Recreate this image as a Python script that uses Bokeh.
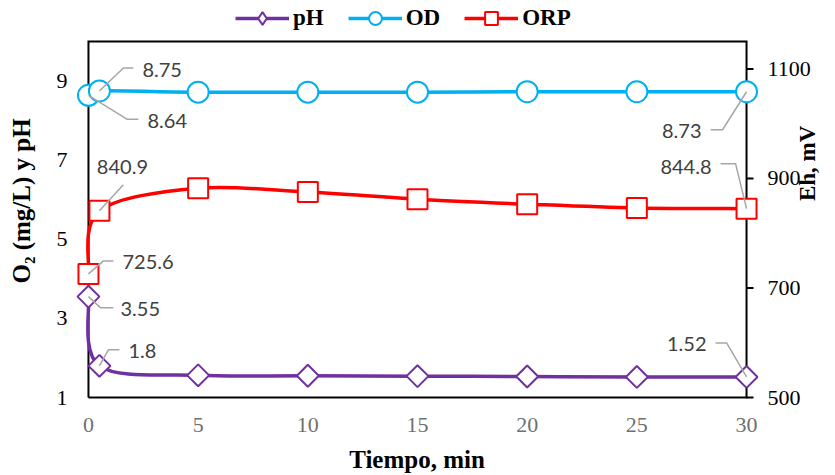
import math
from bokeh.plotting import figure
from bokeh.models import Range1d, LinearAxis, FixedTicker, Legend, LegendItem, ColumnDataSource
from bokeh.embed import file_html
from bokeh.resources import INLINE
from bokeh.core.properties import value

# ---------------- data ----------------
tiempo = [0, 0.5, 5, 10, 15, 20, 25, 30]
ph = [3.55, 1.80, 1.56, 1.55, 1.54, 1.53, 1.52, 1.52]
od = [8.64, 8.75, 8.72, 8.72, 8.72, 8.73, 8.73, 8.73]
orp = [725.6, 840.9, 882.0, 875.0, 862.0, 853.0, 846.0, 844.8]

x_ticks = [0, 5, 10, 15, 20, 25, 30]
left_ticks = [1, 3, 5, 7, 9]
right_ticks = [500, 700, 900, 1100]

X0, X1 = 0, 30
Y0, Y1 = 1, 10
R0, R1 = 500, 1150

# ---------------- layout ----------------
W, H = 835, 475
BOX_L, BOX_W, BOX_T, BOX_H = 88, 660, 41, 356
PAD_L, PAD_R, PAD_TOP, PAD_BOT = 13, 12, 41, 4
kx = BOX_W / (X1 - X0)
ky = BOX_H / (Y1 - Y0)
kr = BOX_H / (R1 - R0)
FRAME_L = BOX_L - PAD_L
FRAME_B = BOX_T + BOX_H + PAD_BOT

PURPLE, CYAN, RED = "#7030A0", "#00B0F0", "#FF0000"
LEADER, LABEL = "#A6A6A6", "#404040"
SERIF = "Liberation Serif"

p = figure(width=W, height=H, output_backend="svg", toolbar_location=None,
           x_range=Range1d(X0 - PAD_L / kx, X1 + PAD_R / kx),
           y_range=Range1d(Y0 - PAD_BOT / ky, Y1 + PAD_TOP / ky),
           min_border_left=FRAME_L,
           min_border_right=W - (BOX_L + BOX_W + PAD_R),
           min_border_top=0,
           min_border_bottom=H - FRAME_B)
p.extra_y_ranges = {"right": Range1d(R0 - PAD_BOT / kr, R1 + PAD_TOP / kr)}
p.outline_line_color = None
p.xgrid.visible = False
p.ygrid.visible = False
p.background_fill_color = "white"
p.title.visible = False


def style_axis(ax):
    ax.axis_line_color = None
    ax.major_tick_line_color = None
    ax.minor_tick_line_color = None
    ax.major_tick_out = 0
    ax.major_tick_in = 0
    ax.minor_tick_out = 0
    ax.minor_tick_in = 0
    ax.major_label_text_font = SERIF
    ax.major_label_text_font_size = "22px"
    ax.axis_label_text_font = SERIF
    ax.axis_label_text_font_style = "bold"
    ax.axis_label_text_font_size = "25px"
    ax.axis_label_text_color = "black"


xa = p.xaxis[0]
style_axis(xa)
xa.ticker = FixedTicker(ticks=x_ticks)
xa.axis_label = "Tiempo, min"
xa.major_label_text_color = "#707070"
xa.major_label_standoff = 16
xa.axis_label_standoff = 11

ya = p.yaxis[0]
style_axis(ya)
ya.ticker = FixedTicker(ticks=left_ticks)
ya.axis_label = "O\u2082 (mg/L) y pH"
ya.major_label_text_color = "black"
ya.major_label_standoff = 8
ya.axis_label_standoff = 19

ra = LinearAxis(y_range_name="right", ticker=FixedTicker(ticks=right_ticks), axis_label="Eh, mV")
style_axis(ra)
ra.axis_label_text_font_size = "23px"
ra.major_label_text_color = "black"
ra.major_label_standoff = 9
ra.axis_label_standoff = -6
try:
    ra.axis_label_orientation = math.pi / 2
except Exception:
    pass
p.add_layout(ra, "right")

# plot box
p.line([X0, X1, X1, X0, X0], [Y0, Y0, Y1, Y1, Y0], line_color="black", line_width=2, line_join="miter")
# right axis tick marks (outward)
p.segment(x0=[X1] * len(right_ticks), x1=[X1 + 7 / kx] * len(right_ticks),
          y0=right_ticks, y1=right_ticks, y_range_name="right", line_color="black", line_width=2)


def bezier_source(xs, ys):
    n = len(xs)
    d = dict(x0=[], y0=[], x1=[], y1=[], cx0=[], cy0=[], cx1=[], cy1=[])
    for i in range(n - 1):
        a = max(i - 1, 0)
        b = min(i + 2, n - 1)
        d["x0"].append(xs[i]); d["y0"].append(ys[i])
        d["x1"].append(xs[i + 1]); d["y1"].append(ys[i + 1])
        d["cx0"].append(xs[i] + (xs[i + 1] - xs[a]) / 6)
        d["cy0"].append(ys[i] + (ys[i + 1] - ys[a]) / 6)
        d["cx1"].append(xs[i + 1] - (xs[b] - xs[i]) / 6)
        d["cy1"].append(ys[i + 1] - (ys[b] - ys[i]) / 6)
    return ColumnDataSource(d)


def draw_curve(ys, color, rng):
    kw = {} if rng == "default" else {"y_range_name": rng}
    return p.bezier(x0="x0", y0="y0", x1="x1", y1="y1", cx0="cx0", cy0="cy0", cx1="cx1", cy1="cy1",
                    source=bezier_source(tiempo, ys), line_color=color, line_width=3.5, **kw)


ph_line = draw_curve(ph, PURPLE, "default")
ph_pts = p.scatter(tiempo, ph, marker="square", angle=math.pi / 4, size=15.5,
                   fill_color="white", line_color=PURPLE, line_width=2)
od_line = draw_curve(od, CYAN, "default")
od_pts = p.scatter(tiempo, od, marker="circle", size=21,
                   fill_color="white", line_color=CYAN, line_width=2)
orp_line = draw_curve(orp, RED, "right")
orp_pts = p.scatter(tiempo, orp, marker="square", size=20, y_range_name="right",
                    fill_color="white", line_color=RED, line_width=2)
ph_leg = p.scatter([float("nan")], [float("nan")], marker="diamond",
                   fill_color="white", line_color=PURPLE, line_width=2)

# data labels with leader lines (offsets in screen px)
series = {"ph": (ph, "default", ky), "od": (od, "default", ky), "orp": (orp, "right", kr)}
labels = [
    ("od", 1, 43, -21, "left", [(0, 0), (24, -23), (34, -23)]),
    ("od", 0, 59, 26, "left", [(0, 0), (39, 24), (50, 24)]),
    ("orp", 1, 23, -44, "center", [(0, 0), (24, -26)]),
    ("orp", 0, 34, -12, "left", [(0, 0), (15, -13), (25, -13)]),
    ("ph", 0, 32, 12, "left", [(0, 0), (12, 11), (25, 11)]),
    ("ph", 1, 29, -15, "left", [(0, 0), (9, -16), (20, -16)]),
    ("od", 7, -45, 39, "right", [(0, 0), (-24, 38), (-36, 38)]),
    ("orp", 7, -35, -42, "right", [(0, 0), (-11, -45), (-26, -45)]),
    ("ph", 7, -40, -33, "right", [(0, 0), (-20, -34), (-31, -34)]),
]
for key, i, tdx, tdy, align, leader in labels:
    vals, rng, k = series[key]
    kw = {} if rng == "default" else {"y_range_name": rng}
    xv, yv = tiempo[i], vals[i]
    p.line([xv + dx / kx for dx, dy in leader], [yv - dy / k for dx, dy in leader],
           line_color=LEADER, line_width=1.5, **kw)
    p.text(x=[xv], y=[yv], text=[f"{yv:g}"], x_offset=tdx, y_offset=tdy,
           text_align=align, text_baseline="middle", text_font=value("Lato"),
           text_font_size="20px", text_color=LABEL, **kw)

legend = Legend(items=[
    LegendItem(label="pH", renderers=[ph_line, ph_leg]),
    LegendItem(label="OD", renderers=[od_line, od_pts]),
    LegendItem(label="ORP", renderers=[orp_line, orp_pts]),
], orientation="horizontal", location=(235 - FRAME_L, FRAME_B - 34), glyph_width=54, glyph_height=32,
    label_standoff=4, spacing=24, padding=0, margin=0, border_line_color=None,
    background_fill_alpha=0, label_text_font=SERIF, label_text_font_style="bold",
    label_text_font_size="23px", label_text_color="black")
p.add_layout(legend, "center")

open("out.html", "w").write(file_html(p, INLINE))
